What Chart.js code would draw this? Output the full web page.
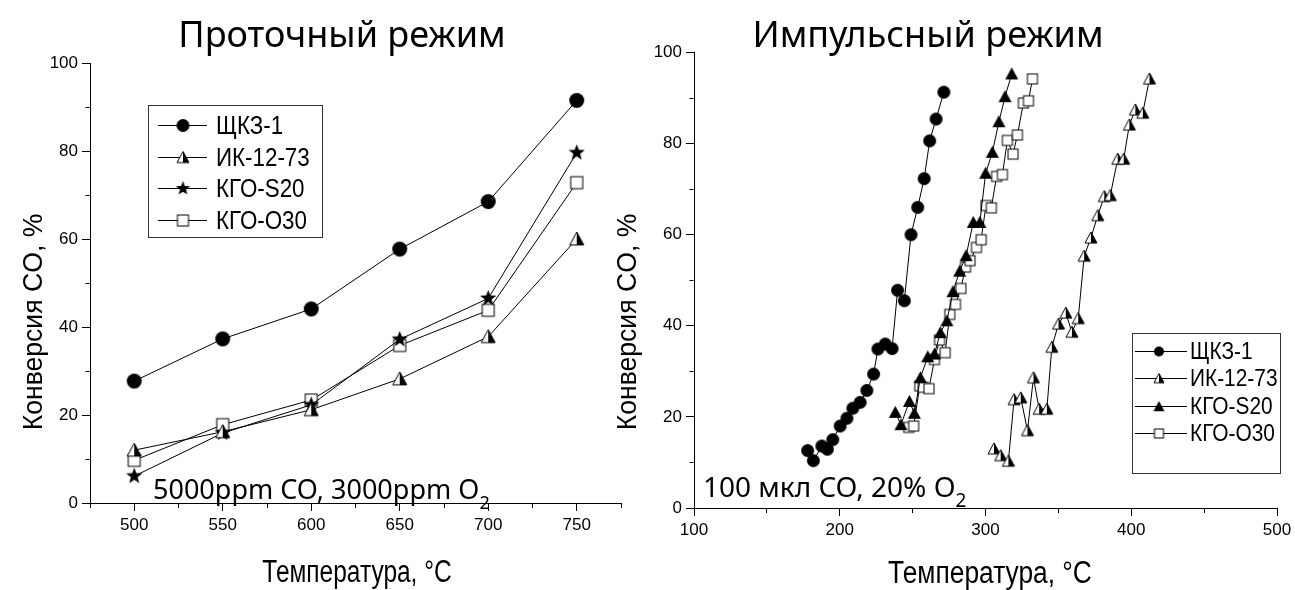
<!DOCTYPE html>
<html lang="ru">
<head>
<meta charset="utf-8">
<title>Конверсия CO: проточный и импульсный режим</title>
<script src="https://cdn.jsdelivr.net/npm/chart.js@4.4.0/dist/chart.umd.min.js"></script>
<style>
  html, body { margin: 0; padding: 0; background: #fff; }
  #wrap { position: relative; width: 1295px; height: 590px; overflow: hidden; }
  #flowBox { position: absolute; left: 0; top: 0; width: 630px; height: 590px; }
  #pulseBox { position: absolute; left: 595px; top: 0; width: 700px; height: 590px; }
</style>
</head>
<body>
<div id="wrap">
  <div id="flowBox"><canvas id="flowChart" width="630" height="590"></canvas></div>
  <div id="pulseBox"><canvas id="pulseChart" width="700" height="590"></canvas></div>
</div>
<script>
// ---- data ----
const seriesNames = ['ЩКЗ-1', 'ИК-12-73', 'КГО-S20', 'КГО-О30'];

// flow mode (left)
const flowTemps = [500, 550, 600, 650, 700, 750];
const flowShkz = [27.7, 37.3, 44.1, 57.7, 68.5, 91.5];
const flowIk = [12.0, 16.2, 21.2, 28.2, 37.8, 60.0];
const flowS20 = [6.1, 15.9, 22.3, 37.2, 46.5, 79.6];
const flowO30 = [9.7, 17.8, 23.4, 35.8, 43.8, 72.8];

// pulse mode (right)
const pulseShkzT = [178.0, 181.9, 187.7, 191.5, 195.2, 200.3, 204.9, 209.0, 214.0, 218.6, 223.2,
  226.2, 231.2, 235.9, 239.7, 244.3, 248.9, 253.5, 257.9, 261.7, 266.1, 271.4];
const pulseShkzC = [12.6, 10.4, 13.6, 12.9, 15.0, 18.0, 19.7, 21.9, 23.2, 25.8, 29.4,
  34.9, 36.0, 35.0, 47.8, 45.5, 60.0, 66.0, 72.3, 80.6, 85.4, 91.3];
const pulseIkT = [305.8, 310.4, 315.7, 319.6, 324.2, 328.8, 332.9, 336.8, 342.1, 345.5, 350.1, 355.1, 359.3,
  363.6, 367.7, 372.3, 377.0, 381.5, 385.6, 390.7, 394.8, 398.7, 402.8, 407.9, 412.5];
const pulseIkC = [13.0, 11.5, 10.3, 23.8, 24.2, 17.0, 28.6, 21.7, 21.7, 35.3, 40.4, 42.8, 38.6,
  41.6, 55.3, 59.3, 64.2, 68.4, 68.6, 76.6, 76.6, 84.1, 87.4, 86.7, 94.2];
const pulseS20T = [238.1, 242.0, 247.8, 251.2, 255.3, 260.4, 265.0, 269.0, 273.5, 277.7, 282.3, 286.7,
  291.6, 296.1, 300.1, 304.7, 309.2, 313.4, 318.0];
const pulseS20C = [21.0, 18.3, 23.4, 20.8, 28.6, 33.2, 33.8, 38.5, 41.1, 47.5, 52.0, 55.4,
  62.7, 62.7, 73.5, 78.1, 84.8, 90.3, 95.3];
const pulseO30T = [247.3, 250.7, 254.9, 257.2, 261.2, 265.0, 268.5, 272.3, 275.5, 279.4, 283.1, 286.3, 289.4,
  293.8, 297.0, 300.3, 304.0, 307.6, 311.6, 315.0, 318.9, 321.9, 326.0, 329.5, 332.2];
const pulseO30C = [17.7, 18.0, 26.8, 26.5, 26.2, 32.6, 36.9, 34.1, 42.5, 44.7, 48.2, 52.9, 54.3,
  57.2, 58.9, 66.4, 65.9, 72.8, 73.2, 80.7, 77.7, 81.9, 88.9, 89.4, 94.2];

Chart.defaults.color = '#000';
Chart.defaults.font.family = "'Liberation Sans', Arial, sans-serif";

const SANS = "'Liberation Sans', Arial, sans-serif";
const NOTE = "'Noto Sans', 'Open Sans', sans-serif";

// marker glyphs drawn once into small canvases and used as pointStyle
function makeMarker(kind, size) {
    const dim = Math.ceil(size) + 4;
    const c = document.createElement('canvas');
    c.width = dim;
    c.height = dim;
    const g = c.getContext('2d');
    const m = dim / 2, r = size / 2;
    g.lineWidth = 1;
    g.strokeStyle = '#000';
    g.fillStyle = '#000';
    const tri = () => {
        g.beginPath();
        g.moveTo(m, m - r);
        g.lineTo(m + r, m + r * 0.85);
        g.lineTo(m - r, m + r * 0.85);
        g.closePath();
    };
    if (kind === 'circle') {
        g.beginPath();
        g.arc(m, m, r, 0, Math.PI * 2);
        g.fill();
    } else if (kind === 'square') {
        g.fillStyle = '#fff';
        g.fillRect(m - r, m - r, size, size);
        g.strokeRect(m - r, m - r, size, size);
    } else if (kind === 'triangle') {
        tri();
        g.fill();
    } else if (kind === 'half') {
        tri();
        g.fillStyle = '#fff';
        g.fill();
        g.beginPath();
        g.moveTo(m, m - r);
        g.lineTo(m + r, m + r * 0.85);
        g.lineTo(m, m + r * 0.85);
        g.closePath();
        g.fillStyle = '#000';
        g.fill();
        tri();
        g.stroke();
    } else if (kind === 'star') {
        g.beginPath();
        for (let i = 0; i < 10; i++) {
            const a = -Math.PI / 2 + i * Math.PI / 5;
            const rr = i % 2 ? r * 0.42 : r;
            g.lineTo(m + rr * Math.cos(a), m + rr * Math.sin(a));
        }
        g.closePath();
        g.fill();
    }
    return c;
}

const toPoints = (xs, ys) => xs.map((x, i) => ({ x, y: ys[i] }));

function series(label, xs, ys, marker, legendMarker) {
    return {
        label,
        data: toPoints(xs, ys),
        showLine: true,
        borderColor: '#000',
        borderWidth: 1,
        tension: 0,
        pointStyle: marker,
        pointRadius: 6,
        legendMarker
    };
}

// linear axis with long labelled ticks and short minor ticks
function axis(min, max, step, labelEvery, size, minorDash, afterFit) {
    return {
        type: 'linear',
        min, max,
        border: { display: true, color: '#000', width: 1 },
        grid: {
            display: true,
            drawOnChartArea: false,
            drawTicks: true,
            tickLength: 8,
            tickColor: '#000',
            tickWidth: 1,
            tickBorderDash: ctx => (ctx.tick && Math.abs(ctx.tick.value % labelEvery) > 1e-6) ? minorDash : []
        },
        ticks: {
            stepSize: step,
            autoSkip: false,
            maxRotation: 0,
            padding: 4,
            color: '#000',
            font: { family: SANS, size },
            callback: v => (Math.abs(v % labelEvery) < 1e-6 ? v : '')
        },
        afterFit
    };
}

// text squeezed horizontally (sx) to imitate the condensed face of the original
function drawNote(ctx, t) {
    ctx.save();
    ctx.fillStyle = '#000';
    ctx.font = t.font;
    ctx.textAlign = t.align || 'left';
    ctx.textBaseline = 'alphabetic';
    ctx.translate(t.x, t.y);
    if (t.angle) ctx.rotate(t.angle);
    if (t.sx) ctx.scale(t.sx, 1);
    ctx.fillText(t.text, 0, 0);
    if (t.sub) {
        const w = ctx.measureText(t.text).width;
        ctx.font = t.sub.font;
        ctx.textAlign = 'left';
        ctx.fillText(t.sub.text, w + t.sub.dx, t.sub.dy);
    }
    ctx.restore();
}

function drawLegend(chart, lg) {
    const ctx = chart.ctx;
    ctx.save();
    ctx.strokeStyle = '#333';
    ctx.lineWidth = 1;
    ctx.strokeRect(lg.left + 0.5, lg.top + 0.5, lg.width, lg.height);
    ctx.font = lg.font;
    ctx.fillStyle = '#000';
    ctx.textBaseline = 'middle';
    ctx.textAlign = 'left';
    chart.data.datasets.forEach((ds, i) => {
        const y = Math.round(lg.rowTop + i * lg.rowStep) + 0.5;
        ctx.strokeStyle = '#000';
        ctx.beginPath();
        ctx.moveTo(lg.lineFrom, y);
        ctx.lineTo(lg.lineTo, y);
        ctx.stroke();
        const img = ds.legendMarker;
        ctx.drawImage(img, lg.markerX - img.width / 2, y - img.height / 2);
        ctx.save();
        ctx.translate(lg.textX, y + 1);
        ctx.scale(lg.sx, 1);
        ctx.fillText(ds.label, 0, 0);
        ctx.restore();
    });
    ctx.restore();
}

function notesPlugin(layout) {
    return {
        id: 'notes',
        afterDraw(chart) {
            layout.texts.forEach(t => drawNote(chart.ctx, t));
            drawLegend(chart, layout.legend);
        }
    };
}

const flowLayout = {
    texts: [
        { text: 'Проточный режим', x: 342, y: 47, align: 'center', font: `36px ${NOTE}` },
        { text: 'Конверсия CO, %', x: 42, y: 322, align: 'center', angle: -Math.PI / 2, font: `28px ${SANS}`, sx: 0.95 },
        { text: 'Температура, °C', x: 357, y: 582, align: 'center', font: `31px ${SANS}`, sx: 0.79 },
        { text: '5000ppm CO, 3000ppm O', x: 153, y: 499, font: `27px ${NOTE}`,
          sub: { text: '2', font: `18px ${NOTE}`, dx: 0, dy: 10 } }
    ],
    legend: { left: 148, top: 105, width: 174, height: 132, rowTop: 125, rowStep: 31.7,
              lineFrom: 158, lineTo: 207, markerX: 183, textX: 216, font: `26px ${SANS}`, sx: 0.86 }
};

const pulseLayout = {
    texts: [
        { text: 'Импульсный режим', x: 333, y: 47, align: 'center', font: `36px ${NOTE}` },
        { text: 'Конверсия CO, %', x: 41, y: 322, align: 'center', angle: -Math.PI / 2, font: `28px ${SANS}`, sx: 0.95 },
        { text: 'Температура, °C', x: 395, y: 583, align: 'center', font: `31px ${SANS}`, sx: 0.85 },
        { text: '100 мкл CO, 20% O', x: 108, y: 497, font: `28px ${NOTE}`,
          sub: { text: '2', font: `19px ${NOTE}`, dx: 0, dy: 10 } }
    ],
    legend: { left: 537, top: 333, width: 148, height: 140, rowTop: 351, rowStep: 27.3,
              lineFrom: 540, lineTo: 592, markerX: 564, textX: 595, font: `24px ${SANS}`, sx: 0.87 }
};

const flowChart = new Chart(document.getElementById('flowChart'), {
    type: 'scatter',
    data: {
        datasets: [
            series(seriesNames[0], flowTemps, flowShkz, makeMarker('circle', 15), makeMarker('circle', 13)),
            series(seriesNames[1], flowTemps, flowIk, makeMarker('half', 14), makeMarker('half', 12)),
            series(seriesNames[2], flowTemps, flowS20, makeMarker('star', 17), makeMarker('star', 15)),
            series(seriesNames[3], flowTemps, flowO30, makeMarker('square', 12), makeMarker('square', 11))
        ]
    },
    options: {
        responsive: false,
        animation: false,
        layout: { padding: { top: 63, right: 9, bottom: 0, left: 0 } },
        plugins: { legend: { display: false }, tooltip: { enabled: false } },
        scales: {
            x: axis(475, 775, 25, 50, 17, [4, 100], s => { s.height = 87; s.paddingLeft = 0; s.paddingRight = 0; }),
            y: axis(0, 100, 10, 20, 17, [0, 3.5, 4, 100], s => { s.width = 90; s.paddingTop = 0; s.paddingBottom = 0; })
        }
    },
    plugins: [notesPlugin(flowLayout)]
});

const pulseChart = new Chart(document.getElementById('pulseChart'), {
    type: 'scatter',
    data: {
        datasets: [
            series(seriesNames[0], pulseShkzT, pulseShkzC, makeMarker('circle', 13), makeMarker('circle', 10)),
            series(seriesNames[1], pulseIkT, pulseIkC, makeMarker('half', 12), makeMarker('half', 10)),
            series(seriesNames[2], pulseS20T, pulseS20C, makeMarker('triangle', 13), makeMarker('triangle', 11)),
            series(seriesNames[3], pulseO30T, pulseO30C, makeMarker('square', 10), makeMarker('square', 9))
        ]
    },
    options: {
        responsive: false,
        animation: false,
        layout: { padding: { top: 52.5, right: 18, bottom: 0, left: 0 } },
        plugins: { legend: { display: false }, tooltip: { enabled: false } },
        scales: {
            x: axis(100, 500, 50, 100, 17, [4, 100], s => { s.height = 82; s.paddingLeft = 0; s.paddingRight = 0; }),
            y: axis(0, 100, 10, 20, 17, [0, 3.5, 4, 100], s => { s.width = 99; s.paddingTop = 0; s.paddingBottom = 0; })
        }
    },
    plugins: [notesPlugin(pulseLayout)]
});
</script>
</body>
</html>
